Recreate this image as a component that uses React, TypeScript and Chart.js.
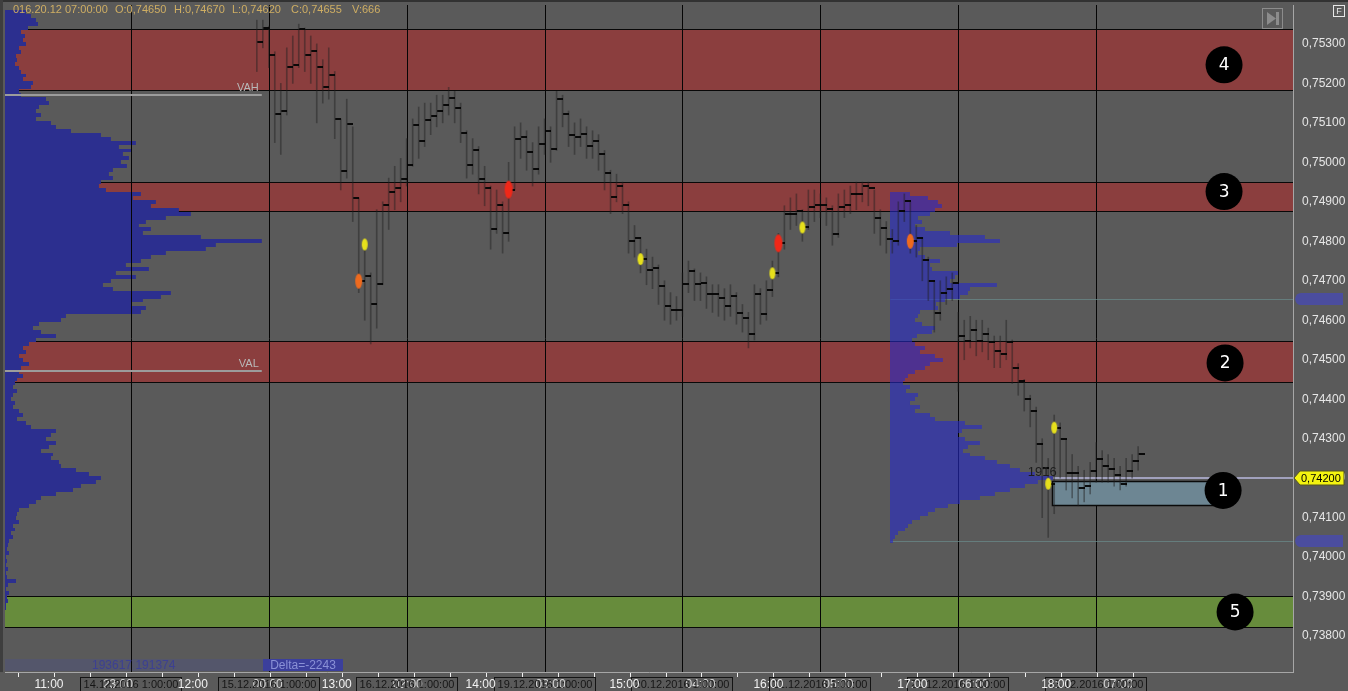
import React, { useEffect, useRef } from 'react';
import { Chart, registerables } from 'chart.js';

Chart.register(...registerables);

const FONT = '"Liberation Sans", Arial, sans-serif';
const BG = '#5a5a5a';

// ---- axis domains ----
const X_MIN = 0;
const X_MAX = 214.83;
const Y_MIN = 0.737091;
const Y_MAX = 0.753985;
const VOL_MAX = 1289;

const Y_TICKS = [0.738, 0.739, 0.74, 0.741, 0.742, 0.743, 0.744, 0.745, 0.746, 0.747, 0.748, 0.749, 0.75, 0.751, 0.752, 0.753];

const X_TICKS = [2.17, 8.17, 14.17, 20.17, 26.17, 32.17, 38.17, 44.17, 50.17, 56.17, 62.17, 68.17, 74.17, 80.17, 86.17, 92.17,
  98.17, 104.17, 110.17, 116.17, 122.17, 128.17, 134.17, 140.17, 146.17, 152.17, 158.17, 164.17, 170.17, 176.17, 182.17, 188.17];
const HOUR_LABELS = ['11:00', '12:00', '13:00', '14:00', '15:00', '16:00', '17:00', '18:00'];
const HOUR_X = [7.33, 31.33, 55.33, 79.33, 103.33, 127.33, 151.33, 175.33];
const DAY_X = [21.0, 44.0, 67.0, 90.0, 113.0, 136.0, 159.0, 182.0];
const DAY_LABELS = ['14.12.2016 1:00:00', '15.12.2016 1:00:00', '16.12.2016 1:00:00', '19.12.2016 1:00:00',
  '20.12.2016 1:00:00', '21.12.2016 1:00:00', '22.12.2016 1:00:00', '23.12.2016 1:00:00'];
const SUB_LABELS = ['23:00', '00:00', '02:00', '03:00', '04:00', '05:00', '06:00', '07:00'];
const SUB_X = [18.83, 43.83, 67.17, 91, 116, 139, 161.5, 185.67];

// ---- price bars ----
const BAR_X0 = 42;
const BAR_CLOSE = [
  0.75305, 0.75340, 0.75272, 0.75123, 0.75131, 0.75242, 0.75247, 0.75338, 0.75272, 0.75282,
  0.75242, 0.75191, 0.75222, 0.75110, 0.74977, 0.75098, 0.74909, 0.74699, 0.74712, 0.74641,
  0.74691, 0.74893, 0.74926, 0.74936, 0.74957, 0.74992, 0.75095, 0.75055, 0.75106, 0.75118,
  0.75131, 0.75146, 0.75164, 0.75138, 0.75075, 0.74992, 0.75032, 0.74957, 0.74936, 0.74830,
  0.74891, 0.74820, 0.74931, 0.75058, 0.75065, 0.75027, 0.74982, 0.75047, 0.75080, 0.75035,
  0.75161, 0.75123, 0.75068, 0.75065, 0.75073, 0.75042, 0.75055, 0.75020, 0.74972, 0.74911,
  0.74941,
  0.74893, 0.74800, 0.74808, 0.74755, 0.74727, 0.74732, 0.74686, 0.74636, 0.74626, 0.74626,
  0.74691, 0.74724, 0.74691, 0.74694, 0.74666, 0.74666, 0.74656, 0.74636, 0.74661, 0.74618,
  0.74606, 0.74565, 0.74666, 0.74616, 0.74676, 0.74719, 0.74795, 0.74868, 0.74868, 0.74878,
  0.74835, 0.74886, 0.74893, 0.74893, 0.74883, 0.74818, 0.74888, 0.74891, 0.74921, 0.74919,
  0.74939, 0.74934, 0.74858, 0.74833, 0.74805, 0.74800, 0.74876, 0.74901, 0.74800, 0.74808,
  0.74752, 0.74699, 0.74618, 0.74669, 0.74679, 0.74694, 0.74560, 0.74547, 0.74575, 0.74547,
  0.74565, 0.74545, 0.74522, 0.74515, 0.74545, 0.74479, 0.74446, 0.74401, 0.74371, 0.74287,
  0.74227, 0.74186, 0.74328, 0.74300, 0.74212, 0.74214, 0.74174, 0.74181, 0.74217, 0.74249,
  0.74232, 0.74222, 0.74207, 0.74186, 0.74219, 0.74244, 0.74260,
];
const BAR_HIGH = [
  0.75360, 0.75360, 0.75345, 0.75280, 0.75200, 0.75290, 0.75320, 0.75350, 0.75340, 0.75320,
  0.75300, 0.75260, 0.75290, 0.75230, 0.75110, 0.75160, 0.75090, 0.74910, 0.74800, 0.74720,
  0.74880, 0.74900, 0.74960, 0.74990, 0.75010, 0.75060, 0.75110, 0.75140, 0.75150, 0.75150,
  0.75170, 0.75170, 0.75190, 0.75180, 0.75150, 0.75080, 0.75060, 0.75040, 0.74990, 0.74940,
  0.74930, 0.74900, 0.75000, 0.75090, 0.75100, 0.75080, 0.75050, 0.75090, 0.75110, 0.75090,
  0.75180, 0.75170, 0.75130, 0.75100, 0.75110, 0.75090, 0.75080, 0.75070, 0.75030, 0.74980,
  0.74970,
  0.74950, 0.74900, 0.74840, 0.74810, 0.74780, 0.74760, 0.74740, 0.74700, 0.74670, 0.74660,
  0.74720, 0.74750, 0.74730, 0.74720, 0.74710, 0.74690, 0.74690, 0.74680, 0.74690, 0.74670,
  0.74640, 0.74620, 0.74690, 0.74680, 0.74700, 0.74750, 0.74820, 0.74890, 0.74910, 0.74920,
  0.74880, 0.74930, 0.74930, 0.74920, 0.74910, 0.74890, 0.74920, 0.74930, 0.74940, 0.74950,
  0.74950, 0.74950, 0.74930, 0.74880, 0.74850, 0.74830, 0.74900, 0.74920, 0.74900, 0.74840,
  0.74810, 0.74760, 0.74700, 0.74700, 0.74710, 0.74720, 0.74620, 0.74600, 0.74610, 0.74600,
  0.74600, 0.74580, 0.74560, 0.74560, 0.74600, 0.74550, 0.74490, 0.74450, 0.74410, 0.74380,
  0.74300, 0.74250, 0.74360, 0.74340, 0.74300, 0.74260, 0.74230, 0.74220, 0.74240, 0.74290,
  0.74270, 0.74260, 0.74250, 0.74230, 0.74250, 0.74260, 0.74280,
];
const BAR_LOW = [
  0.75230, 0.75290, 0.75240, 0.75050, 0.75020, 0.75120, 0.75200, 0.75240, 0.75230, 0.75200,
  0.75100, 0.75150, 0.75160, 0.75060, 0.74930, 0.74960, 0.74850, 0.74670, 0.74600, 0.74540,
  0.74580, 0.74690, 0.74830, 0.74880, 0.74900, 0.74940, 0.74990, 0.75010, 0.75040, 0.75070,
  0.75090, 0.75100, 0.75120, 0.75100, 0.75050, 0.74960, 0.74970, 0.74920, 0.74890, 0.74780,
  0.74820, 0.74770, 0.74800, 0.74930, 0.75010, 0.74980, 0.74940, 0.74970, 0.75020, 0.75000,
  0.75030, 0.75090, 0.75040, 0.75020, 0.75040, 0.75010, 0.75010, 0.74980, 0.74930, 0.74870,
  0.74900,
  0.74870, 0.74770, 0.74760, 0.74720, 0.74690, 0.74680, 0.74640, 0.74600, 0.74590, 0.74600,
  0.74610, 0.74670, 0.74650, 0.74650, 0.74630, 0.74620, 0.74610, 0.74600, 0.74610, 0.74590,
  0.74570, 0.74530, 0.74550, 0.74590, 0.74600, 0.74660, 0.74710, 0.74780, 0.74830, 0.74840,
  0.74800, 0.74830, 0.74850, 0.74860, 0.74840, 0.74790, 0.74810, 0.74860, 0.74870, 0.74880,
  0.74900, 0.74890, 0.74820, 0.74790, 0.74770, 0.74770, 0.74790, 0.74850, 0.74770, 0.74760,
  0.74700, 0.74650, 0.74570, 0.74600, 0.74640, 0.74650, 0.74420, 0.74500, 0.74530, 0.74510,
  0.74520, 0.74500, 0.74480, 0.74480, 0.74500, 0.74440, 0.74410, 0.74370, 0.74330, 0.74240,
  0.74100, 0.74050, 0.74110, 0.74200, 0.74170, 0.74150, 0.74130, 0.74140, 0.74160, 0.74190,
  0.74190, 0.74190, 0.74180, 0.74170, 0.74180, 0.74200, 0.74220,
];

// ---- signal markers ----
const MARKER_IDX = [17, 18, 42, 64, 86, 87, 91, 109, 132, 133];
const MARKER_PRICE = [0.74699, 0.74792, 0.74931, 0.74755, 0.74719, 0.74795, 0.74835, 0.74800, 0.74186, 0.74328];
const MARKER_KIND = ['orange', 'yellow', 'red', 'yellow', 'yellow', 'red', 'yellow', 'orange', 'yellow', 'yellow'];

// ---- zones ----
const ZONE_HI = [0.75338, 0.74949, 0.74547, 0.73901];
const ZONE_LO = [0.75184, 0.74878, 0.74444, 0.73823];
const ZONE_COLOR = ['#8b3e3e', '#8b3e3e', '#8b3e3e', '#678c3c'];
const BOX_X = [174.67, 201.5];
const BOX_Y = [0.74194, 0.74133];
const CIRCLE_NUM = ['4', '3', '2', '1', '5'];
const CIRCLE_X = [203.33, 203.33, 203.5, 203.17, 205.17];
const CIRCLE_Y = [0.75247, 0.74926, 0.74492, 0.74169, 0.73861];

// ---- volume profiles ----
const LP_TOP = 0.7538;
const LP_STEP = 0.0001;
const LP_VOL = [
  21, 26, 31, 33, 23, 16, 20, 18, 21, 14, 16, 11, 12, 10, 14, 16, 21, 18, 28, 26,
  14, 16, 41, 44, 34, 31, 36, 31, 46, 51, 66, 96, 106, 131, 114, 126, 118, 124, 116, 122,
  108, 104, 108, 96, 94, 101, 136, 128, 151, 146, 174, 186, 161, 141, 134, 146, 138, 196, 257, 211,
  201, 161, 146, 136, 121, 144, 111, 131, 106, 98, 108, 166, 156, 138, 126, 141, 136, 61, 56, 34,
  28, 36, 51, 31, 24, 18, 21, 14, 18, 24, 16, 14, 18, 12, 10, 8, 12, 8, 6, 10,
  8, 14, 18, 12, 21, 26, 51, 46, 41, 51, 44, 36, 48, 46, 54, 56, 71, 84, 96, 91,
  76, 68, 51, 36, 31, 24, 14, 12, 11, 14, 8, 10, 6, 8, 4, 3, 2, 4, 1, 2,
  1, 3, 1, 2, 11, 3, 1, 4, 2, 3, 1, 1,
];
const RP_X = 147.67;
const RP_TOP = 0.7492;
const RP_STEP = 0.0001;
const RP_VOL = [
  20, 38, 48, 52, 45, 40, 28, 32, 25, 35, 60, 95, 110, 67, 30, 28, 35, 50, 40, 42,
  68, 65, 60, 107, 80, 78, 70, 55, 46, 48, 30, 28, 25, 32, 45, 42, 27, 22, 25, 35,
  30, 45, 53, 40, 35, 25, 18, 15, 13, 20, 16, 28, 25, 20, 30, 25, 40, 45, 75, 92,
  72, 68, 75, 90, 78, 73, 80, 95, 107, 120, 130, 145, 163, 148, 135, 120, 105, 90, 70, 58,
  45, 38, 30, 22, 18, 15, 8, 5, 3,
];
const RP_VAH = 0.74654;
const RP_VAL = 0.74042;
const RP_POC = 0.742;
const POC_X = 174.83;
const POC_VOL_LABEL = '1916';
const POC_LABEL_X = 173;
const POC_LABEL_Y = 0.74214;

const VAH = 0.75171;
const VAL = 0.74472;
const VA_END_X = 42.83;

const HEADER_TEXT = ['016.20.12 07:00:00', 'O:0,74650', 'H:0,74670', 'L:0,74620', 'C:0,74655', 'V:666'];
const HEADER_LEFT = [13, 115, 174, 232, 291, 352];
const STATS_TEXT = '193617 191374';
const DELTA_TEXT = 'Delta=-2243';

const fmt = (v: number) => v.toFixed(5).replace('.', ',');

function line(ctx: any, x1: number, y1: number, x2: number, y2: number) {
  ctx.beginPath();
  ctx.moveTo(x1, y1);
  ctx.lineTo(x2, y2);
  ctx.stroke();
}

const overlay = {
  id: 'overlay',
  beforeDraw(chart: any) {
    const { ctx, width, height } = chart;
    ctx.save();
    ctx.fillStyle = BG;
    ctx.fillRect(0, 0, width, height);
    ctx.restore();
  },
  beforeDatasetsDraw(chart: any) {
    const { ctx, chartArea: a, scales } = chart;
    const px = (v: number) => scales.x.getPixelForValue(v);
    const py = (v: number) => scales.y.getPixelForValue(v);
    const pw = (v: number) => scales.vol.getPixelForValue(v) - scales.vol.getPixelForValue(0);
    ctx.save();
    ctx.beginPath();
    ctx.rect(a.left, a.top, a.right - a.left, a.bottom - a.top);
    ctx.clip();

    // zones
    ZONE_HI.forEach((hi, i) => {
      const y1 = Math.round(py(hi));
      const y2 = Math.round(py(ZONE_LO[i]));
      ctx.fillStyle = ZONE_COLOR[i];
      ctx.fillRect(a.left, y1, a.right - a.left, y2 - y1);
    });
    ctx.strokeStyle = '#080808';
    ctx.lineWidth = 1;
    ZONE_HI.forEach((hi, i) => {
      [hi, ZONE_LO[i]].forEach((v) => {
        const y = Math.round(py(v)) + 0.5;
        line(ctx, a.left, y, a.right, y);
      });
    });

    // left volume profile
    ctx.fillStyle = '#2c2f8f';
    LP_VOL.forEach((v, k) => {
      const p = LP_TOP - k * LP_STEP;
      const y1 = Math.round(py(p + LP_STEP / 2));
      const y2 = Math.round(py(p - LP_STEP / 2));
      ctx.fillRect(a.left, y1, Math.max(1, pw(v)), y2 - y1);
    });

    // stats strip
    ctx.fillStyle = 'rgba(75,80,140,0.35)';
    ctx.fillRect(a.left, a.bottom - 13, 336, 12);

    // day separators
    ctx.strokeStyle = '#050505';
    ctx.lineWidth = 1;
    DAY_X.forEach((v) => {
      const x = Math.round(px(v)) + 0.5;
      line(ctx, x, a.top, x, a.bottom);
    });

    // developing value area lines
    ctx.strokeStyle = 'rgba(105,140,140,0.7)';
    [RP_VAH, RP_VAL].forEach((v) => {
      const y = Math.round(py(v)) + 0.5;
      line(ctx, px(RP_X), y, a.right, y);
    });

    // box 1
    {
      const x1 = Math.round(px(BOX_X[0])) + 0.5;
      const x2 = Math.round(px(BOX_X[1])) + 0.5;
      const y1 = Math.round(py(BOX_Y[0])) + 0.5;
      const y2 = Math.round(py(BOX_Y[1])) + 0.5;
      ctx.fillStyle = '#6d8693';
      ctx.fillRect(x1, y1, x2 - x1, y2 - y1);
      ctx.strokeStyle = '#0a0a0a';
      ctx.lineWidth = 1.5;
      ctx.strokeRect(x1, y1, x2 - x1, y2 - y1);
    }

    // POC line
    ctx.strokeStyle = 'rgba(165,165,195,0.95)';
    ctx.lineWidth = 2;
    {
      const y = Math.round(py(RP_POC));
      line(ctx, px(POC_X), y, a.right, y);
    }

    // right (session) volume profile
    ctx.fillStyle = 'rgba(38,42,200,0.6)';
    const base = Math.round(px(RP_X));
    RP_VOL.forEach((v, k) => {
      const p = RP_TOP - k * RP_STEP;
      const y1 = Math.round(py(p + RP_STEP / 2));
      const y2 = Math.round(py(p - RP_STEP / 2));
      ctx.fillRect(base, y1, Math.max(1, pw(v)), y2 - y1);
    });

    // VAH / VAL
    ctx.strokeStyle = '#9c9c9c';
    ctx.lineWidth = 2;
    ctx.fillStyle = '#b8b8b8';
    ctx.font = `11px ${FONT}`;
    ctx.textAlign = 'right';
    ctx.textBaseline = 'bottom';
    [[VAH, 'VAH'], [VAL, 'VAL']].forEach(([v, t]: any) => {
      const y = Math.round(py(v));
      line(ctx, a.left, y, px(VA_END_X), y);
      ctx.fillText(t, px(VA_END_X) - 3, y - 2);
    });

    ctx.restore();
  },
  afterDatasetsDraw(chart: any) {
    const { ctx, chartArea: a, scales } = chart;
    const px = (v: number) => scales.x.getPixelForValue(v);
    const py = (v: number) => scales.y.getPixelForValue(v);
    ctx.save();
    ctx.beginPath();
    ctx.rect(a.left, a.top, a.right - a.left, a.bottom - a.top);
    ctx.clip();

    ctx.fillStyle = '#1e1e1e';
    ctx.font = `13px ${FONT}`;
    ctx.textAlign = 'center';
    ctx.textBaseline = 'middle';
    ctx.fillText(POC_VOL_LABEL, px(POC_LABEL_X), py(POC_LABEL_Y));

    CIRCLE_NUM.forEach((n, i) => {
      const cx = px(CIRCLE_X[i]);
      const cy = py(CIRCLE_Y[i]);
      ctx.fillStyle = '#000';
      ctx.beginPath();
      ctx.arc(cx, cy, 18.5, 0, Math.PI * 2);
      ctx.fill();
      ctx.fillStyle = '#fff';
      ctx.font = `17px "DejaVu Sans", sans-serif`;
      ctx.textAlign = 'center';
      ctx.textBaseline = 'middle';
      ctx.fillText(n, cx, cy + 1);
    });
    ctx.restore();
  },
  afterDraw(chart: any) {
    const { ctx, chartArea: a, scales, width } = chart;
    const px = (v: number) => scales.x.getPixelForValue(v);
    const py = (v: number) => scales.y.getPixelForValue(v);
    ctx.save();

    // frame edges
    ctx.fillStyle = '#323232';
    ctx.fillRect(0, 0, width, 2);
    ctx.fillStyle = '#3e3e3e';
    ctx.fillRect(0, 0, 3, a.bottom);

    // axes borders
    ctx.strokeStyle = '#a6a6a6';
    ctx.lineWidth = 1;
    line(ctx, a.right + 0.5, a.top, a.right + 0.5, a.bottom + 1);
    line(ctx, a.left, a.bottom + 0.5, a.right + 1, a.bottom + 0.5);

    // x ticks
    ctx.strokeStyle = '#f0f0f0';
    X_TICKS.forEach((v) => {
      const x = Math.round(px(v)) + 0.5;
      line(ctx, x, a.bottom + 1, x, a.bottom + 5);
    });

    // hour labels (drawn first, then date boxes over them)
    ctx.font = `12px ${FONT}`;
    ctx.textAlign = 'center';
    ctx.textBaseline = 'middle';
    ctx.fillStyle = 'rgba(235,235,235,0.85)';
    SUB_LABELS.forEach((t, i) => ctx.fillText(t, px(SUB_X[i]), a.bottom + 12.5));

    ctx.font = `11px ${FONT}`;
    DAY_X.forEach((v, i) => {
      const cx = Math.round(px(v));
      ctx.strokeStyle = '#141414';
      ctx.strokeRect(cx - 50.5, a.bottom + 5.5, 101, 14);
      ctx.fillStyle = '#161616';
      ctx.fillText(DAY_LABELS[i], cx, a.bottom + 12.5);
    });

    ctx.font = `12px ${FONT}`;
    ctx.fillStyle = '#f2f2f2';
    HOUR_LABELS.forEach((t, i) => ctx.fillText(t, px(HOUR_X[i]), a.bottom + 12.5));

    // stats text
    ctx.font = `12px ${FONT}`;
    ctx.textAlign = 'left';
    ctx.fillStyle = '#3c4092';
    ctx.fillText(STATS_TEXT, a.left + 87, a.bottom - 6.5);
    ctx.fillStyle = '#3b3f9c';
    ctx.fillRect(a.left + 258, a.bottom - 13, 80, 12);
    ctx.fillStyle = '#8a91d6';
    ctx.textAlign = 'center';
    ctx.fillText(DELTA_TEXT, a.left + 298, a.bottom - 6.5);

    // header
    ctx.font = `11px ${FONT}`;
    ctx.textAlign = 'left';
    ctx.fillStyle = '#cfae63';
    HEADER_TEXT.forEach((t, i) => ctx.fillText(t, HEADER_LEFT[i], 10));

    // top-right buttons
    ctx.strokeStyle = '#8c8c8c';
    ctx.strokeRect(a.right - 30.5, 8.5, 20, 20);
    ctx.fillStyle = '#8c8c8c';
    ctx.beginPath();
    ctx.moveTo(a.right - 26, 12);
    ctx.lineTo(a.right - 17, 18.5);
    ctx.lineTo(a.right - 26, 25);
    ctx.closePath();
    ctx.fill();
    ctx.fillRect(a.right - 17, 12, 3, 13);
    ctx.strokeStyle = '#e8e8e8';
    ctx.strokeRect(width - 14.5, 5.5, 11, 11);
    ctx.fillStyle = '#e8e8e8';
    ctx.font = `9px ${FONT}`;
    ctx.textAlign = 'center';
    ctx.fillText('F', width - 9, 11.5);

    // right axis markers
    ctx.fillStyle = '#4b4d9e';
    [RP_VAH, RP_VAL].forEach((v) => {
      const y = Math.round(py(v));
      ctx.beginPath();
      ctx.moveTo(a.right + 2, y);
      ctx.quadraticCurveTo(a.right + 3, y - 6, a.right + 8, y - 6);
      ctx.lineTo(width - 5, y - 6);
      ctx.lineTo(width - 5, y + 6);
      ctx.lineTo(a.right + 8, y + 6);
      ctx.quadraticCurveTo(a.right + 3, y + 6, a.right + 2, y);
      ctx.fill();
    });
    {
      const y = Math.round(py(RP_POC));
      ctx.fillStyle = '#f4f410';
      ctx.beginPath();
      ctx.moveTo(a.right + 1, y);
      ctx.lineTo(a.right + 7, y - 7);
      ctx.lineTo(width - 4, y - 7);
      ctx.lineTo(width - 4, y + 7);
      ctx.lineTo(a.right + 7, y + 7);
      ctx.closePath();
      ctx.fill();
      ctx.strokeStyle = '#555520';
      ctx.lineWidth = 1;
      ctx.stroke();
      ctx.fillStyle = '#000';
      ctx.font = `11px ${FONT}`;
      ctx.textAlign = 'left';
      ctx.textBaseline = 'middle';
      ctx.fillText(fmt(RP_POC), a.right + 8, y + 0.5);
    }
    ctx.restore();
  },
};

function makeDash() {
  const c = document.createElement('canvas');
  c.width = 13;
  c.height = 2;
  const g = c.getContext('2d')!;
  g.fillStyle = 'rgba(5,5,5,0.95)';
  g.fillRect(7, 0, 6, 2);
  return c;
}

function makeBlob(kind: string) {
  const sizes: any = { red: [8, 18], orange: [7, 15], yellow: [6, 12] };
  const colors: any = { red: '#f02818', orange: '#ee6a1e', yellow: '#e6e01c' };
  const [w, h] = sizes[kind];
  const c = document.createElement('canvas');
  c.width = w + 2;
  c.height = h + 2;
  const g = c.getContext('2d')!;
  g.fillStyle = colors[kind];
  g.beginPath();
  g.ellipse((w + 2) / 2, (h + 2) / 2, w / 2, h / 2, 0, 0, Math.PI * 2);
  g.fill();
  return c;
}

export default function App() {
  const ref = useRef<HTMLCanvasElement>(null);

  useEffect(() => {
    const canvas = ref.current;
    if (!canvas) return;
    const dash = makeDash();
    const blobs: any = { red: makeBlob('red'), orange: makeBlob('orange'), yellow: makeBlob('yellow') };

    const chart = new Chart(canvas, {
      type: 'scatter',
      data: {
        datasets: [
          {
            type: 'bar',
            label: 'range',
            data: BAR_HIGH.map((h, i) => ({ x: BAR_X0 + i, y: [BAR_LOW[i], h] })) as any,
            backgroundColor: 'rgba(30,30,30,0.45)',
            borderWidth: 0,
            barThickness: 1,
            order: 3,
          } as any,
          {
            type: 'scatter',
            label: 'close',
            data: BAR_CLOSE.map((c, i) => ({ x: BAR_X0 + i, y: c })),
            pointStyle: dash as any,
            pointRadius: 3,
            order: 2,
          } as any,
          {
            type: 'scatter',
            label: 'signals',
            data: MARKER_IDX.map((b, i) => ({ x: BAR_X0 + b, y: MARKER_PRICE[i] })),
            pointStyle: MARKER_KIND.map((k) => blobs[k]) as any,
            pointRadius: 4,
            order: 1,
          } as any,
        ],
      },
      options: {
        responsive: false,
        animation: false,
        devicePixelRatio: 1,
        events: [],
        layout: { padding: { left: 4, top: 3, right: 0, bottom: 19 } },
        plugins: { legend: { display: false }, tooltip: { enabled: false } },
        scales: {
          x: { type: 'linear', min: X_MIN, max: X_MAX, display: false, offset: false, grid: { display: false } },
          vol: { type: 'linear', axis: 'x', min: 0, max: VOL_MAX, display: false },
          y: {
            type: 'linear',
            position: 'right',
            min: Y_MIN,
            max: Y_MAX,
            grid: { display: false, drawTicks: false },
            border: { display: true, color: '#a6a6a6', width: 1 },
            afterBuildTicks: (s: any) => {
              s.ticks = Y_TICKS.map((v) => ({ value: v }));
            },
            afterFit: (s: any) => {
              s.width = 55;
              s.paddingTop = 0;
              s.paddingBottom = 0;
            },
            ticks: {
              color: '#e6e6e6',
              padding: 9,
              font: { family: FONT, size: 12 },
              callback: (v: any) => fmt(Number(v)),
            },
          },
        } as any,
      },
      plugins: [overlay],
    } as any);

    return () => chart.destroy();
  }, []);

  return (
    <div style={{ position: 'fixed', left: 0, top: 0, width: 1348, height: 691, background: BG }}>
      <canvas ref={ref} width={1348} height={691} style={{ display: 'block' }} />
    </div>
  );
}
